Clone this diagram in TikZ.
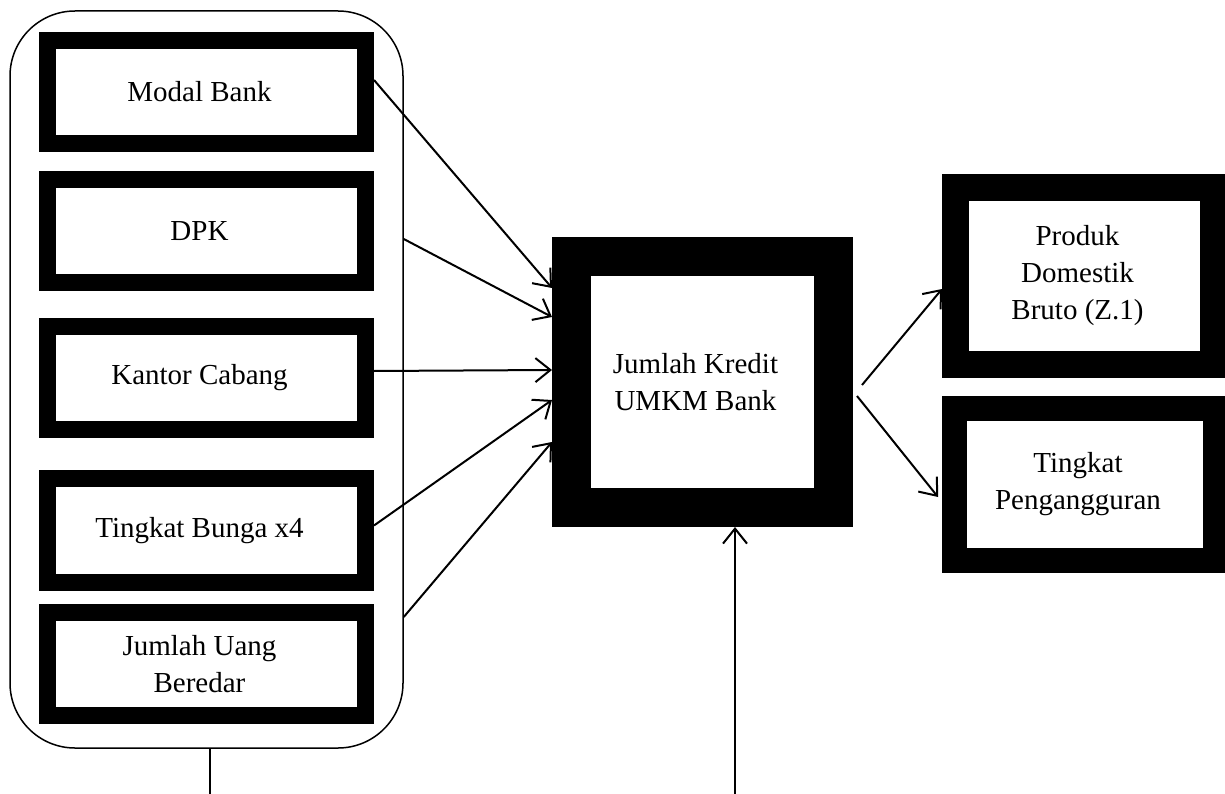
\documentclass[tikz,border=0pt]{standalone}
\usepackage{fontspec}
\setmainfont{Liberation Serif}
\usetikzlibrary{arrows.meta}
\begin{document}
\begin{tikzpicture}[x=1pt,y=-1pt,
  fat/.style={draw, fill=white, line width=#1, inner sep=0pt},
  lbl/.style={font=\fontsize{29}{37}\selectfont, align=center, inner sep=0pt},
  conn/.style={line width=2pt, -{Straight Barb[length=15pt,width=24pt,line width=2pt]}},
  plain/.style={line width=1.5pt}]
\useasboundingbox (0,0) rectangle (1225,794);
% container
\node[draw, line width=1.5pt, rounded corners=65pt, minimum width=393pt, minimum height=737pt, inner sep=0pt] (cont) at (206.5,379.5) {};
% left boxes
\node[fat=17pt, minimum width=318pt, minimum height=103pt, label={[lbl,xshift=-7pt]center:Modal Bank}] (mb) at (206.5,92) {};
\node[fat=17pt, minimum width=318pt, minimum height=103pt, label={[lbl,xshift=-7pt]center:DPK}] (dpk) at (206.5,231) {};
\node[fat=17pt, minimum width=318pt, minimum height=103pt, label={[lbl,xshift=-7pt]center:Kantor Cabang}] (kc) at (206.5,378) {};
\node[fat=17pt, minimum width=318pt, minimum height=104pt, label={[lbl,xshift=-7pt]center:Tingkat Bunga x4}] (tb) at (206.5,530.5) {};
\node[fat=17pt, minimum width=318pt, minimum height=103pt, label={[lbl,xshift=-7pt]center:Jumlah Uang\\Beredar}] (ju) at (206.5,664) {};
% center box
\node[fat=39pt, minimum width=262pt, minimum height=251pt, label={[lbl,xshift=-7pt]center:Jumlah Kredit\\UMKM Bank}] (kred) at (702.5,382) {};
% right boxes
\node[fat=27pt, minimum width=258pt, minimum height=177pt, label={[lbl,xshift=-7pt]center:Produk\\Domestik\\Bruto (Z.1)}] (pdb) at (1084.5,276) {};
\node[fat=25pt, minimum width=261pt, minimum height=152pt, label={[lbl,xshift=-7pt]center:Tingkat\\Pengangguran}] (tp) at (1085,484.5) {};
% connectors left -> center
\draw[conn] ([yshift=12pt]mb.east) -- ([yshift=94pt]kred.west);
\draw[conn] ([yshift=140.5pt]cont.east) -- ([yshift=65pt]kred.west);
\draw[conn] ([yshift=7pt]kc.east) -- ([yshift=12pt]kred.west);
\draw[conn] ([yshift=5pt]tb.east) -- ([yshift=-18pt]kred.west);
\draw[conn] ([yshift=-237.5pt]cont.east) -- ([yshift=-60pt]kred.west);
% center -> right
\draw[conn] ([xshift=9pt,yshift=-3pt]kred.east) -- ([yshift=-13pt]pdb.west);
\draw[conn] ([xshift=4pt,yshift=-14pt]kred.east) -- ([xshift=-4pt,yshift=-12.5pt]tp.west);
% bottom
\coordinate (bot) at (735,794);
\draw[conn] (bot) -- (bot |- kred.south);
\coordinate (cbot) at (210,794);
\draw[plain] (cbot |- cont.south) -- (cbot);
\end{tikzpicture}
\end{document}
